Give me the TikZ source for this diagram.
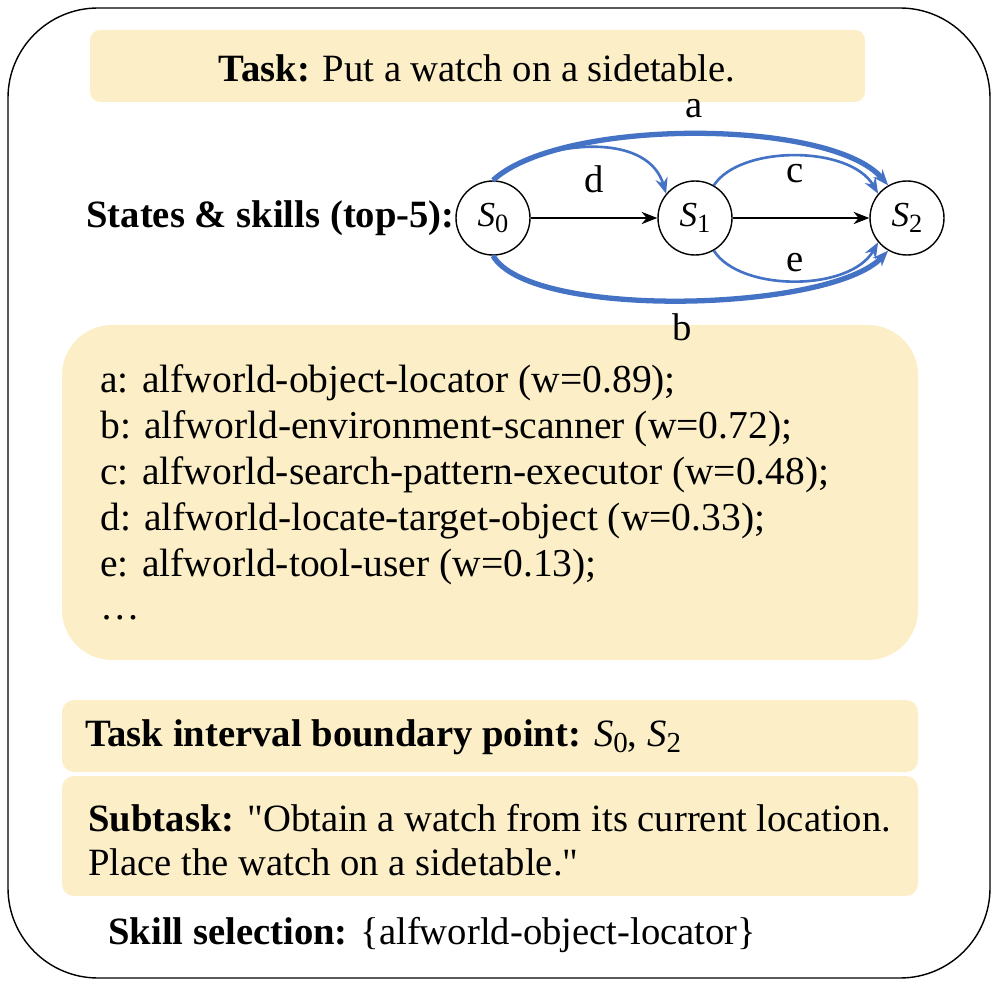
\documentclass[tikz,border=0pt]{standalone}
\usepackage{fontspec}
\setmainfont{Liberation Serif}[Ligatures=TeXOff]
\usetikzlibrary{arrows.meta}
\definecolor{pale}{HTML}{FCEFC8}
\definecolor{blu}{HTML}{4472C4}
\newcommand{\Sx}[1]{\textit{S}\raisebox{-0.35ex}{\scalebox{0.75}{#1}}}
\begin{document}
\begin{tikzpicture}[x=0.02cm,y=-0.02cm,
  txt/.style={font=\fontsize{22}{26}\selectfont,inner sep=0pt},
  ltxt/.style={font=\fontsize{22.5}{27}\selectfont,inner sep=0pt,anchor=west},
  st/.style={circle,draw,thick,minimum size=74*0.02cm,inner sep=0pt,font=\fontsize{20}{22}\selectfont},
  box/.style={fill=pale,draw=none},
  bl/.style={draw=blu,-{Stealth[length=9pt,width=7pt]}},
  lab/.style={txt,fill=none}]
\useasboundingbox (0,0) rectangle (997,986);
\draw[thick,rounded corners=90*0.02cm] (8,8) rectangle (990,978);
\fill[box,rounded corners=10*0.02cm] (90,30) rectangle (865,102);
\fill[box,rounded corners=50*0.02cm] (62,325) rectangle (918,660);
\fill[box,rounded corners=12*0.02cm] (62,700) rectangle (918,772);
\fill[box,rounded corners=12*0.02cm] (62,776) rectangle (918,896);
\node[txt] (task) at (477,68) {\textbf{Task:} Put a watch on a sidetable.};
\node[txt,anchor=east] (sl) at (455,218) {\textbf{States \& skills (top-5):}};
\node[st] (s0) at (493,218) {\Sx{0}};
\node[st] (s1) at (695,218) {\Sx{1}};
\node[st] (s2) at (907,218) {\Sx{2}};
\draw[thick,-{Stealth[length=9pt,width=7pt]}] (s0) -- node[lab,above=14pt]{d} (s1);
\draw[thick,-{Stealth[length=9pt,width=7pt]}] (s1) -- (s2);
\draw[bl,line width=3pt] (s0.90) .. controls (560,118) and (830,118) .. node[lab,above=8pt]{a} (s2.120);
\draw[bl,line width=1.5pt] (530,158) .. controls (580,140) and (650,140) .. (s1.140);
\draw[bl,line width=1.5pt] (s1.60) .. controls (740,145) and (850,145) .. node[lab,below=4pt]{c} (s2.140);
\draw[bl,line width=1.5pt] (s1.-60) .. controls (740,292) and (850,292) .. node[lab,above=4pt]{e} (s2.-140);
\draw[bl,line width=3pt] (s0.-90) .. controls (530,320) and (830,312) .. node[lab,below=6pt]{b} (s2.-120);
\node[ltxt] (la) at (100,383) {a: alfworld-object-locator (w=0.89);};
\node[ltxt] (lb) at (100,429) {b: alfworld-environment-scanner (w=0.72);};
\node[ltxt] (lc) at (100,475) {c: alfworld-search-pattern-executor (w=0.48);};
\node[ltxt] (ld) at (100,521) {d: alfworld-locate-target-object (w=0.33);};
\node[ltxt] (le) at (100,567) {e: alfworld-tool-user (w=0.13);};
\node[ltxt] (lf) at (100,618) {\dots};
\node[txt,anchor=west] (tb) at (85,737) {\textbf{Task interval boundary point:} \Sx{0}, \Sx{2}};
\node[txt,anchor=west] (st1) at (88,818) {\textbf{Subtask:} "Obtain a watch from its current location.};
\node[txt,anchor=west] (st2) at (88,862) {Place the watch on a sidetable."};
\node[txt,anchor=west] (ss) at (108,935) {\textbf{Skill selection:} \{alfworld-object-locator\}};
\end{tikzpicture}
\end{document}
